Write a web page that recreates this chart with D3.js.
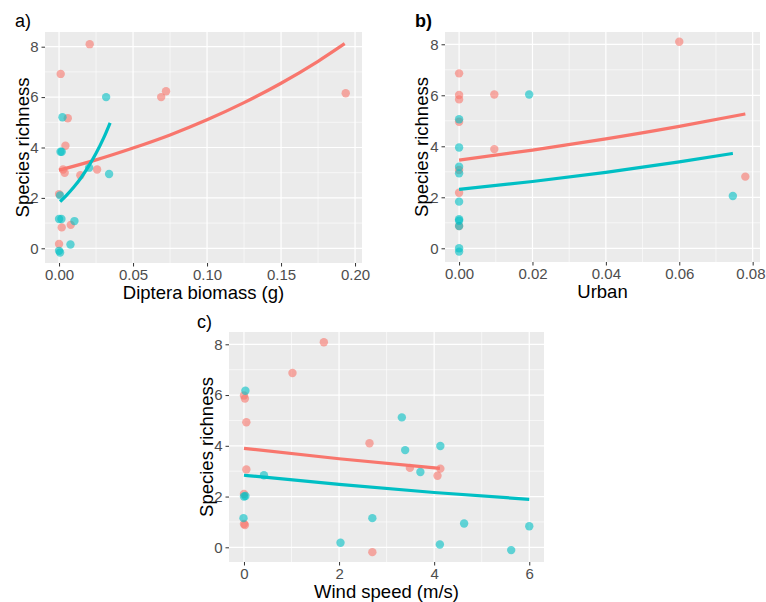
<!DOCTYPE html>
<html>
<head>
<meta charset="utf-8">
<script src="https://cdn.jsdelivr.net/npm/d3@7"></script>
<style>
  body { margin: 0; background: #ffffff; }
  text { font-family: "Liberation Sans", Arial, sans-serif; }
</style>
</head>
<body>
<svg id="fig" width="766" height="602"></svg>
<script>
// ---- Species richness observations (two groups: red and teal) ----

// a) Diptera biomass (g)
const dipteraRed = [
  [0.0207, 8.1], [0.0011, 6.92], [0.069, 6.0], [0.0723, 6.23], [0.1937, 6.15],
  [0.0059, 5.16], [0.0043, 4.07], [0.0027, 3.13], [0.0038, 3.0], [0.0257, 3.13],
  [0.0144, 2.9], [0.0, 2.15], [0.0018, 0.83], [0.0079, 0.93], [0.0, 0.17]
];
const dipteraTeal = [
  [0.0318, 6.0], [0.0023, 5.2], [0.001, 3.83], [0.0018, 3.83], [0.0338, 2.95],
  [0.0203, 3.2], [0.0007, 2.1], [0.0, 1.16], [0.0016, 1.16], [0.0104, 1.08],
  [0.0077, 0.15], [0.0, -0.1], [0.0007, -0.17]
];
const dipteraFitRed = [
  [0.0, 3.1], [0.025, 3.51], [0.05, 3.98], [0.075, 4.5], [0.1, 5.1],
  [0.125, 5.78], [0.15, 6.55], [0.175, 7.42], [0.193, 8.12]
];
const dipteraFitTeal = [
  [0.0007, 1.85], [0.005, 2.1], [0.01, 2.43], [0.015, 2.81], [0.02, 3.26],
  [0.025, 3.77], [0.03, 4.36], [0.0345, 4.98]
];

// b) Urban cover
const urbanRed = [
  [0.06, 8.1], [0.0, 6.86], [0.0, 6.01], [0.0, 5.84], [0.0096, 6.03],
  [0.0, 4.96], [0.0096, 3.89], [0.0, 3.07], [0.0, 2.18], [0.078, 2.81],
  [0.0, 0.87]
];
const urbanTeal = [
  [0.0191, 6.03], [0.0, 5.06], [0.0, 3.95], [0.0, 3.2], [0.0, 2.94],
  [0.0, 1.83], [0.0, 1.14], [0.0, 1.08], [0.0, 0.87], [0.0, 0.0],
  [0.0, -0.13], [0.0746, 2.05]
];
const urbanFitRed = [[0.0, 3.46], [0.02, 3.85], [0.04, 4.29], [0.06, 4.78], [0.078, 5.27]];
const urbanFitTeal = [[0.0, 2.31], [0.02, 2.62], [0.04, 2.98], [0.06, 3.39], [0.0746, 3.72]];

// c) Wind speed (m/s)
const windRed = [
  [1.68, 8.08], [1.02, 6.87], [0.0, 5.98], [0.02, 5.86], [0.05, 4.93],
  [2.64, 4.10], [0.05, 3.07], [3.49, 3.13], [4.13, 3.1], [4.07, 2.82],
  [0.0, 2.1], [0.0, 0.92], [0.02, 0.88], [2.70, -0.19]
];
const windTeal = [
  [0.03, 6.17], [3.32, 5.12], [3.39, 3.83], [4.13, 3.99], [3.71, 2.97],
  [0.42, 2.84], [0.03, 2.02], [0.0, 2.0], [-0.01, 1.15], [2.70, 1.15],
  [4.63, 0.94], [6.0, 0.83], [2.03, 0.18], [4.12, 0.11], [5.62, -0.11]
];
const windFitRed = [[0.0, 3.90], [2.0, 3.49], [4.12, 3.11]];
const windFitTeal = [[0.0, 2.84], [2.0, 2.48], [4.0, 2.16], [6.0, 1.89]];

// ---- Tick labels ----
const richnessTicks = [0, 2, 4, 6, 8];
const dipteraTicks = [0, 0.05, 0.10, 0.15, 0.20];
const urbanTicks = [0, 0.02, 0.04, 0.06, 0.08];
const windTicks = [0, 2, 4, 6];

const RED = "#F8766D";
const TEAL = "#00BFC4";
const WIDTH = 766;

const svg = d3.select("#fig");

function minorsOf(ticks, domain) {
  const step = ticks[1] - ticks[0];
  const out = [];
  for (let i = 0; i < ticks.length - 1; i++) out.push((ticks[i] + ticks[i + 1]) / 2);
  const lo = ticks[0] - step / 2, hi = ticks[ticks.length - 1] + step / 2;
  if (lo >= domain[0]) out.push(lo);
  if (hi <= domain[1]) out.push(hi);
  return out;
}

function drawPanel(p) {
  const x = d3.scaleLinear().domain(p.xDomain).range([p.left, p.right]);
  const y = d3.scaleLinear().domain(p.yDomain).range([p.bottom, p.top]);
  const g = svg.append("g");

  g.append("rect")
    .attr("x", p.left).attr("y", p.top)
    .attr("width", p.right - p.left).attr("height", p.bottom - p.top)
    .attr("fill", "#EBEBEB");

  // minor grid
  const grid = g.append("g").attr("stroke", "#ffffff");
  grid.selectAll(".xm").data(minorsOf(p.xTicks, p.xDomain)).join("line")
    .attr("x1", d => x(d)).attr("x2", d => x(d))
    .attr("y1", p.top).attr("y2", p.bottom).attr("stroke-width", 0.6);
  grid.selectAll(".ym").data(minorsOf(richnessTicks, p.yDomain)).join("line")
    .attr("class", "ym")
    .attr("y1", d => y(d)).attr("y2", d => y(d))
    .attr("x1", p.left).attr("x2", p.right).attr("stroke-width", 0.6);
  // major grid
  grid.selectAll(".xM").data(p.xTicks).join("line").attr("class", "xM")
    .attr("x1", d => x(d)).attr("x2", d => x(d))
    .attr("y1", p.top).attr("y2", p.bottom).attr("stroke-width", 1.2);
  grid.selectAll(".yM").data(richnessTicks).join("line").attr("class", "yM")
    .attr("y1", d => y(d)).attr("y2", d => y(d))
    .attr("x1", p.left).attr("x2", p.right).attr("stroke-width", 1.2);

  // points
  const pts = g.append("g");
  [[p.red, RED], [p.teal, TEAL]].forEach(([data, col]) => {
    pts.selectAll(null).data(data).join("circle")
      .attr("cx", d => x(d[0])).attr("cy", d => y(d[1]))
      .attr("r", 4.2).attr("fill", col).attr("fill-opacity", 0.6);
  });

  // fitted lines
  const line = d3.line().x(d => x(d[0])).y(d => y(d[1])).curve(d3.curveMonotoneX);
  g.append("path").datum(p.fitRed).attr("d", line)
    .attr("fill", "none").attr("stroke", RED).attr("stroke-width", 3.2);
  g.append("path").datum(p.fitTeal).attr("d", line)
    .attr("fill", "none").attr("stroke", TEAL).attr("stroke-width", 3.2);

  // axes
  const xAxis = g.append("g").attr("transform", `translate(0,${p.bottom})`)
    .call(d3.axisBottom(x).tickValues(p.xTicks).tickFormat(p.xFormat).tickSize(3.5).tickPadding(3));
  const yAxis = g.append("g").attr("transform", `translate(${p.left},0)`)
    .call(d3.axisLeft(y).tickValues(richnessTicks).tickFormat(d3.format("d")).tickSize(3.5).tickPadding(3));
  [xAxis, yAxis].forEach(a => {
    a.select(".domain").remove();
    a.selectAll(".tick line").attr("stroke", "#333333").attr("stroke-width", 1);
    a.selectAll(".tick text").attr("fill", "#4D4D4D").style("font-size", "15px");
  });
  // keep the outermost x label inside the figure
  xAxis.selectAll(".tick text").each(function (d) {
    const box = this.getBBox();
    const right = x(d) + box.x + box.width;
    if (right > WIDTH - 1) d3.select(this).attr("dx", WIDTH - 1 - right);
  });

  // axis titles
  g.append("text")
    .attr("x", (p.left + p.right) / 2).attr("y", p.bottom + 36)
    .attr("text-anchor", "middle").attr("fill", "#000")
    .style("font-size", "18.5px").text(p.xTitle);
  g.append("text")
    .attr("transform", `translate(${p.yTitleX},${(p.top + p.bottom) / 2}) rotate(-90)`)
    .attr("text-anchor", "middle").attr("dominant-baseline", "central").attr("fill", "#000")
    .style("font-size", "18.5px").text("Species richness");

  // panel tag
  g.append("text")
    .attr("x", p.tagX).attr("y", p.tagY)
    .attr("fill", "#000").style("font-size", "18px")
    .style("font-weight", p.tagBold ? "bold" : "normal")
    .text(p.tag);
}

drawPanel({
  tag: "a)", tagX: 15, tagY: 27, tagBold: false,
  left: 45, right: 362, top: 32, bottom: 263,
  xDomain: [-0.0095, 0.2047], yDomain: [-0.583, 8.583],
  xTicks: dipteraTicks, xFormat: d3.format(".2f"),
  xTitle: "Diptera biomass (g)", yTitleX: 22,
  red: dipteraRed, teal: dipteraTeal, fitRed: dipteraFitRed, fitTeal: dipteraFitTeal
});

drawPanel({
  tag: "b)", tagX: 415, tagY: 27, tagBold: true,
  left: 445, right: 760, top: 32, bottom: 262,
  xDomain: [-0.00384, 0.0820], yDomain: [-0.537, 8.482],
  xTicks: urbanTicks, xFormat: d3.format(".2f"),
  xTitle: "Urban", yTitleX: 421,
  red: urbanRed, teal: urbanTeal, fitRed: urbanFitRed, fitTeal: urbanFitTeal
});

drawPanel({
  tag: "c)", tagX: 197, tagY: 328, tagBold: false,
  left: 229, right: 544, top: 332, bottom: 562,
  xDomain: [-0.315, 6.31], yDomain: [-0.579, 8.485],
  xTicks: windTicks, xFormat: d3.format("d"),
  xTitle: "Wind speed (m/s)", yTitleX: 206,
  red: windRed, teal: windTeal, fitRed: windFitRed, fitTeal: windFitTeal
});
</script>
</body>
</html>
